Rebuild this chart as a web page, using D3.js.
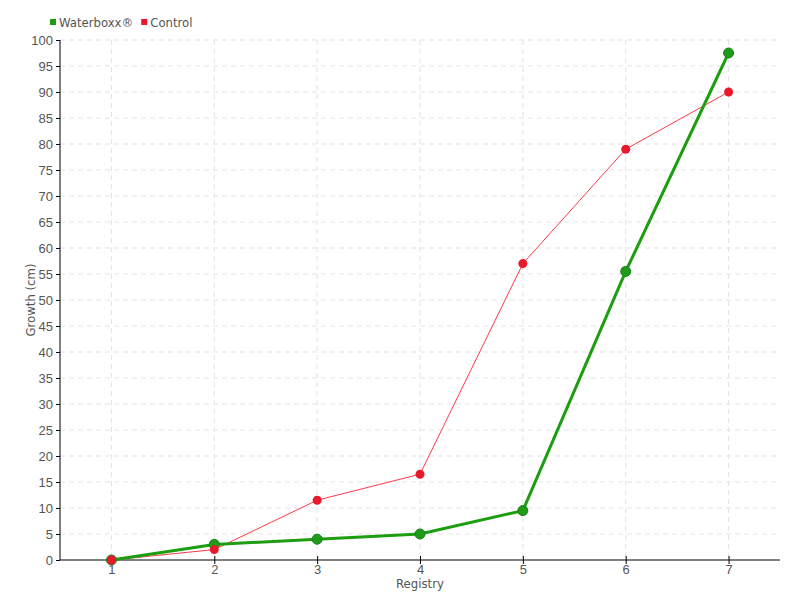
<!DOCTYPE html>
<html>
<head>
<meta charset="utf-8">
<script src="https://cdn.jsdelivr.net/npm/d3@7"></script>
<style>
  body { margin: 0; background: #fff; }
  svg { font-family: "DejaVu Sans Condensed", "DejaVu Sans", sans-serif; }
  .grid line { stroke: #e3e3e3; stroke-dasharray: 5 4; }
  .axis text { fill: #555; font-size: 13px; }
  .axis path, .axis line { stroke: #000; }
</style>
</head>
<body>
<svg width="800" height="600"></svg>
<script>
const registry = [1, 2, 3, 4, 5, 6, 7];
const waterboxx = [0, 3, 4, 5, 9.5, 55.5, 97.5];
const control = [0, 2, 11.5, 16.5, 57, 79, 90];
const yTicks = d3.range(0, 101, 5);

const svg = d3.select("svg");

const x = d3.scaleLinear().domain([0.5, 7.5]).range([60, 780]);
const y = d3.scaleLinear().domain([0, 100]).range([560, 40]);

// grid
svg.append("g").attr("class", "grid")
  .selectAll("line.h")
  .data(yTicks.filter(d => d > 0))
  .enter().append("line")
  .attr("x1", 60).attr("x2", 780)
  .attr("y1", d => y(d)).attr("y2", d => y(d));

svg.append("g").attr("class", "grid")
  .selectAll("line.v")
  .data(registry)
  .enter().append("line")
  .attr("x1", d => x(d)).attr("x2", d => x(d))
  .attr("y1", 40).attr("y2", 560);

// axes
svg.append("g")
  .attr("class", "axis")
  .attr("transform", "translate(60,0)")
  .call(d3.axisLeft(y).tickValues(yTicks).tickSize(4).tickPadding(3))
  .call(g => g.select(".domain").attr("d", "M0,40V560"));

svg.append("g")
  .attr("class", "axis")
  .attr("transform", "translate(0,560)")
  .call(d3.axisBottom(x).tickValues(registry).tickFormat(d3.format("d")).tickSize(4).tickPadding(1))
  .call(g => g.select(".domain").attr("d", "M60,0H780"))
  .call(g => g.selectAll(".tick line").attr("y1", -4));

svg.append("text")
  .attr("x", 420).attr("y", 588)
  .attr("text-anchor", "middle")
  .attr("fill", "#555").attr("font-size", 13)
  .text("Registry");

svg.append("text")
  .attr("transform", "translate(35,300) rotate(-90)")
  .attr("text-anchor", "middle")
  .attr("fill", "#555").attr("font-size", 13)
  .text("Growth (cm)");

const line = d3.line()
  .x((d, i) => x(registry[i]))
  .y(d => y(d));

// control series
svg.append("path")
  .datum(control)
  .attr("fill", "none")
  .attr("stroke", "#ff3a4a")
  .attr("stroke-width", 1)
  .attr("d", line);

// waterboxx series
svg.append("path")
  .datum(waterboxx)
  .attr("fill", "none")
  .attr("stroke", "#1c9e10")
  .attr("stroke-width", 3)
  .attr("d", line);

svg.selectAll(".wpt")
  .data(waterboxx)
  .enter().append("circle")
  .attr("class", "wpt")
  .attr("cx", (d, i) => x(registry[i]))
  .attr("cy", d => y(d))
  .attr("r", 5)
  .attr("fill", "#1f9a1a")
  .attr("stroke", "#16801a")
  .attr("stroke-width", 1);

svg.selectAll(".cpt")
  .data(control)
  .enter().append("circle")
  .attr("class", "cpt")
  .attr("cx", (d, i) => x(registry[i]))
  .attr("cy", d => y(d))
  .attr("r", 4.5)
  .attr("fill", "#e8192c");

// legend
const legend = [
  { name: "Waterboxx®", color: "#1c9e10" },
  { name: "Control", color: "#ee1530" }
];
let lx = 50;
legend.forEach(d => {
  const g = svg.append("g").attr("transform", `translate(${lx},22)`);
  g.append("rect")
    .attr("x", 0).attr("y", -3)
    .attr("width", 6).attr("height", 6)
    .attr("fill", d.color);
  const t = g.append("text")
    .attr("x", 9).attr("y", 5)
    .attr("fill", "#555").attr("font-size", 13)
    .text(d.name);
  lx += 9 + t.node().getComputedTextLength() + 8;
});
</script>
</body>
</html>
